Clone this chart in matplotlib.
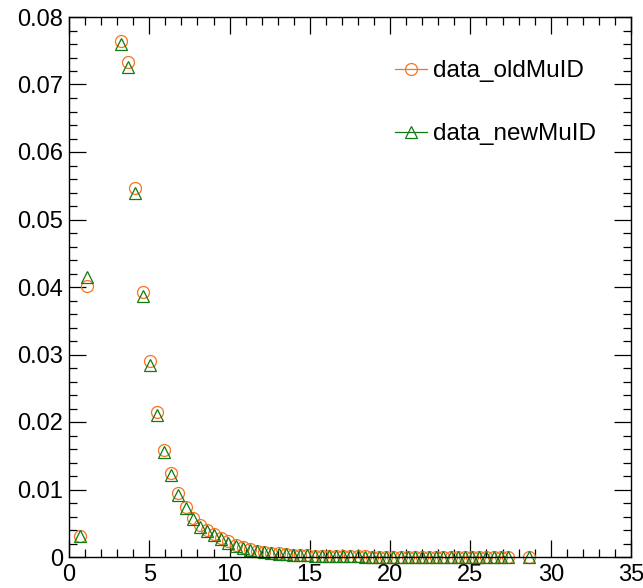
import matplotlib as mpl
mpl.use('Agg')
import matplotlib.pyplot as plt
from matplotlib.lines import Line2D
from matplotlib.ticker import MultipleLocator, FuncFormatter

# x positions of the points (same for both samples)
x_vals = [0.68, 1.14,
          3.24, 3.69, 4.13, 4.58, 5.03, 5.47, 5.92, 6.36, 6.81, 7.26,
          7.70, 8.15, 8.60, 9.04, 9.49, 9.93, 10.38, 10.83, 11.27, 11.72,
          12.17, 12.61, 13.06, 13.50, 13.95, 14.40, 14.84, 15.29, 15.74, 16.18,
          16.63, 17.08, 17.52, 17.97, 18.41, 18.86, 19.31, 19.75, 20.20, 20.65,
          21.09, 21.54, 21.98, 22.43, 22.88, 23.32, 23.77, 24.22, 24.66, 25.11,
          25.56, 26.00, 26.45, 26.89, 27.34,
          28.62]

old_vals = [0.0031, 0.0401,
            0.0765, 0.0734, 0.0546, 0.0392, 0.0291, 0.0215, 0.0159, 0.0124, 0.0095, 0.0074,
            0.0058, 0.0047, 0.0040, 0.0034, 0.0028, 0.0023, 0.0018, 0.0015, 0.0012, 0.00095,
            0.00078, 0.00063, 0.00052, 0.00043, 0.00036, 0.00030, 0.00025, 0.00021, 0.00018, 0.00015,
            0.00013, 0.00011, 0.00010, 0.00009, 0.00008, 0.00007, 0.00007, 0.00006, 0.00006, 0.00005,
            0.00005, 0.00004, 0.00004, 0.00004, 0.00003, 0.00003, 0.00003, 0.00003, 0.00002, 0.00002,
            0.00002, 0.00002, 0.00002, 0.00001, 0.00001,
            0.00001]

new_vals = [0.0031, 0.0415,
            0.0760, 0.0726, 0.0539, 0.0386, 0.0285, 0.0211, 0.0156, 0.0121, 0.0092, 0.0072,
            0.0056, 0.0045, 0.0038, 0.0032, 0.0026, 0.0021, 0.0017, 0.0014, 0.0011, 0.00088,
            0.00072, 0.00058, 0.00048, 0.00040, 0.00033, 0.00027, 0.00023, 0.00019, 0.00016, 0.00014,
            0.00012, 0.00010, 0.00009, 0.00008, 0.00007, 0.00006, 0.00006, 0.00005, 0.00005, 0.00004,
            0.00004, 0.00004, 0.00003, 0.00003, 0.00003, 0.00003, 0.00002, 0.00002, 0.00002, 0.00002,
            0.00002, 0.00001, 0.00001, 0.00001, 0.00001,
            0.00001]

labels = ['data_oldMuID', 'data_newMuID']
c_old = '#f7731e'
c_new = '#127a12'

plt.rcParams['font.family'] = ['Liberation Sans', 'DejaVu Sans']

fig = plt.figure(figsize=(6.43, 5.88), dpi=100)
ax = fig.add_axes([69/643., 31/588., 562/643., 540/588.])

ax.plot(x_vals, old_vals, linestyle='none', marker='o', ms=8.6, mfc='none',
        mec=c_old, mew=0.9, clip_on=False)
ax.plot(x_vals, new_vals, linestyle='none', marker='^', ms=8.2, mfc='none',
        mec=c_new, mew=0.9, clip_on=False)

ax.set_xlim(0, 35)
ax.set_ylim(0, 0.08)

# ROOT style ticks: inside, on all four sides
ax.xaxis.set_major_locator(MultipleLocator(5))
ax.xaxis.set_minor_locator(MultipleLocator(1))
ax.yaxis.set_major_locator(MultipleLocator(0.01))
ax.yaxis.set_minor_locator(MultipleLocator(0.002))
ax.yaxis.set_major_formatter(FuncFormatter(lambda v, p: '%g' % round(v, 4)))
ax.tick_params(which='both', direction='in', top=True, right=True, width=0.9,
               labelsize=17, colors='black')
ax.tick_params(which='major', length=12)
ax.tick_params(which='minor', length=6)
ax.tick_params(axis='x', pad=5)
ax.tick_params(axis='y', pad=4)
for sp in ax.spines.values():
    sp.set_linewidth(1.0)

handles = [Line2D([], [], color=c_old, lw=0.9, marker='o', ms=8.6, mfc='none', mec=c_old, mew=0.9),
           Line2D([], [], color=c_new, lw=0.9, marker='^', ms=8.2, mfc='none', mec=c_new, mew=0.9)]
fig.legend(handles, labels, loc='upper left', bbox_to_anchor=(395/643., 1 - 60/588.),
           frameon=False, fontsize=17.5, handlelength=1.3, handletextpad=0.25,
           labelspacing=1.7, borderpad=0, borderaxespad=0)

fig.savefig('out.png', dpi=100)
